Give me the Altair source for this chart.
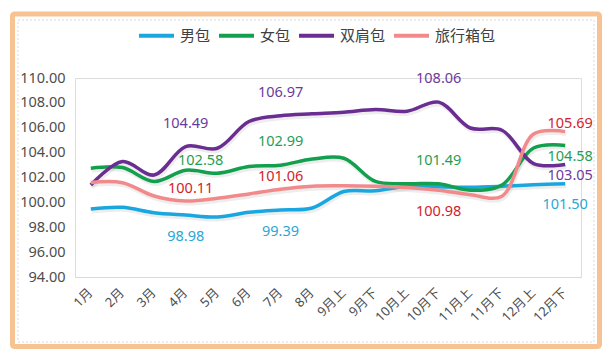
import altair as alt
import pandas as pd

months = ["1月", "2月", "3月", "4月", "5月", "6月", "7月", "8月", "9月上", "9月下",
          "10月上", "10月下", "11月上", "11月下", "12月上", "12月下"]
series_names = ["男包", "女包", "双肩包", "旅行箱包"]
men = [99.47, 99.60, 99.17, 98.98, 98.82, 99.20, 99.39, 99.55, 100.88, 100.93,
       101.30, 101.25, 101.22, 101.30, 101.42, 101.50]
women = [102.75, 102.80, 101.68, 102.58, 102.34, 102.88, 102.99, 103.48, 103.55, 101.68,
         101.50, 101.49, 100.98, 101.40, 104.37, 104.58]
backpack = [101.40, 103.28, 102.20, 104.49, 104.35, 106.50, 106.97, 107.12, 107.25, 107.46,
            107.33, 108.06, 105.98, 105.80, 103.12, 103.05]
luggage = [101.60, 101.58, 100.51, 100.11, 100.33, 100.68, 101.06, 101.30, 101.33, 101.30,
           101.20, 100.98, 100.62, 100.50, 105.50, 105.69]
y_ticks = [94, 96, 98, 100, 102, 104, 106, 108, 110]

line_colors = ["#1AA7DF", "#13A04E", "#6A2D92", "#F28A8C"]
label_colors = {"男包": "#2AA6D6", "女包": "#1E9E55", "双肩包": "#6B3A9E", "旅行箱包": "#D2232A"}

FONT = "'Noto Sans', 'Noto Sans CJK SC', sans-serif"
AXIS_COLOR = "#4D4D4D"

values_by_series = dict(zip(series_names, [men, women, backpack, luggage]))
rows = []
for s in series_names:
    for m, v in zip(months, values_by_series[s]):
        rows.append({"month": m, "series": s, "value": v})
df = pd.DataFrame(rows)

# labelled points: (series, month) with label offset style (dx, dy)
label_points = [
    ("双肩包", "4月", 0, -23), ("女包", "4月", 15, -9), ("旅行箱包", "4月", 5, -12), ("男包", "4月", 0, 22),
    ("双肩包", "7月", 0, -23), ("女包", "7月", 0, -23), ("旅行箱包", "7月", 0, -12), ("男包", "7月", 0, 22),
    ("双肩包", "10月下", 0, -23), ("女包", "10月下", 0, -23), ("旅行箱包", "10月下", 0, 22),
    ("旅行箱包", "12月下", 5, -8), ("女包", "12月下", 5, 12), ("双肩包", "12月下", 5, 12), ("男包", "12月下", 0, 21),
]

x_scale = alt.Scale(type="point", padding=0.5)
y_scale = alt.Scale(domain=[94, 110], nice=False, zero=False)

x_axis = alt.Axis(title=None, labelAngle=-45, ticks=False, domain=True,
                  domainColor="#D9D9D9", domainWidth=1, labelPadding=9,
                  labelOffset=-5, labelFontSize=13, labelColor=AXIS_COLOR,
                  labelFont=FONT, labelOverlap=False, zindex=1)
y_axis = alt.Axis(title=None, values=y_ticks, format=".2f", grid=False, domain=False,
                  ticks=False, labelPadding=10, labelFontSize=14.5,
                  labelOverlap=False, labelColor=AXIS_COLOR, labelFont=FONT, zindex=1)
x_enc = alt.X("month:N", sort=months, scale=x_scale, axis=x_axis)
y_enc = alt.Y("value:Q", scale=y_scale, axis=y_axis)

frame_df = pd.DataFrame({"k": [0]})
frame = alt.Chart(frame_df).mark_rect(filled=False, stroke="#F8C393", strokeWidth=5,
                                      cornerRadius=2).encode(
    x=alt.value(-62.5), x2=alt.value(524.5), y=alt.value(-64), y2=alt.value(268.5))
inner = alt.Chart(frame_df).mark_rect(filled=False, stroke="#D9D9D9", strokeWidth=1,
                                      strokeDash=[2, 2]).encode(
    x=alt.value(-57), x2=alt.value(519), y=alt.value(-58), y2=alt.value(264))

base = alt.Chart(df)
shadow = base.mark_line(interpolate="catmull-rom", strokeWidth=4, color="#888888",
                        opacity=0.15, yOffset=2.5, xOffset=1).encode(
    x=x_enc, y=y_enc, detail="series:N")
lines = base.mark_line(interpolate="catmull-rom", strokeWidth=3.5).encode(
    x=x_enc, y=y_enc,
    color=alt.Color("series:N", sort=series_names,
                    scale=alt.Scale(domain=series_names, range=line_colors),
                    legend=alt.Legend(title=None, orient="none", legendX=62, legendY=-62,
                                      direction="horizontal", columns=4,
                                      symbolType="stroke", symbolSize=1225,
                                      symbolStrokeWidth=4, labelFontSize=15,
                                      labelFont=FONT, labelColor="#404040",
                                      labelOffset=4, columnPadding=0, padding=0)))

label_layers = []
for s, m, dx, dy in label_points:
    v = values_by_series[s][months.index(m)]
    ldf = pd.DataFrame({"month": [m], "series": [s], "value": [v]})
    label_layers.append(
        alt.Chart(ldf).mark_text(fontSize=14.5, font=FONT, dx=dx, dy=dy,
                                 color=label_colors[s], baseline="middle").encode(
            x=x_enc, y=y_enc,
            text=alt.Text("value:Q", format=".2f")))

chart = alt.layer(frame, inner, shadow, lines, *label_layers).properties(
    width=506, height=199,
    autosize=alt.AutoSizeParams(type="none"),
    padding={"left": 67, "top": 70, "right": 25, "bottom": 76},
).configure_view(strokeWidth=0).configure(background="white")

chart.save("out.html", embed_options={"renderer": "svg", "actions": False})
